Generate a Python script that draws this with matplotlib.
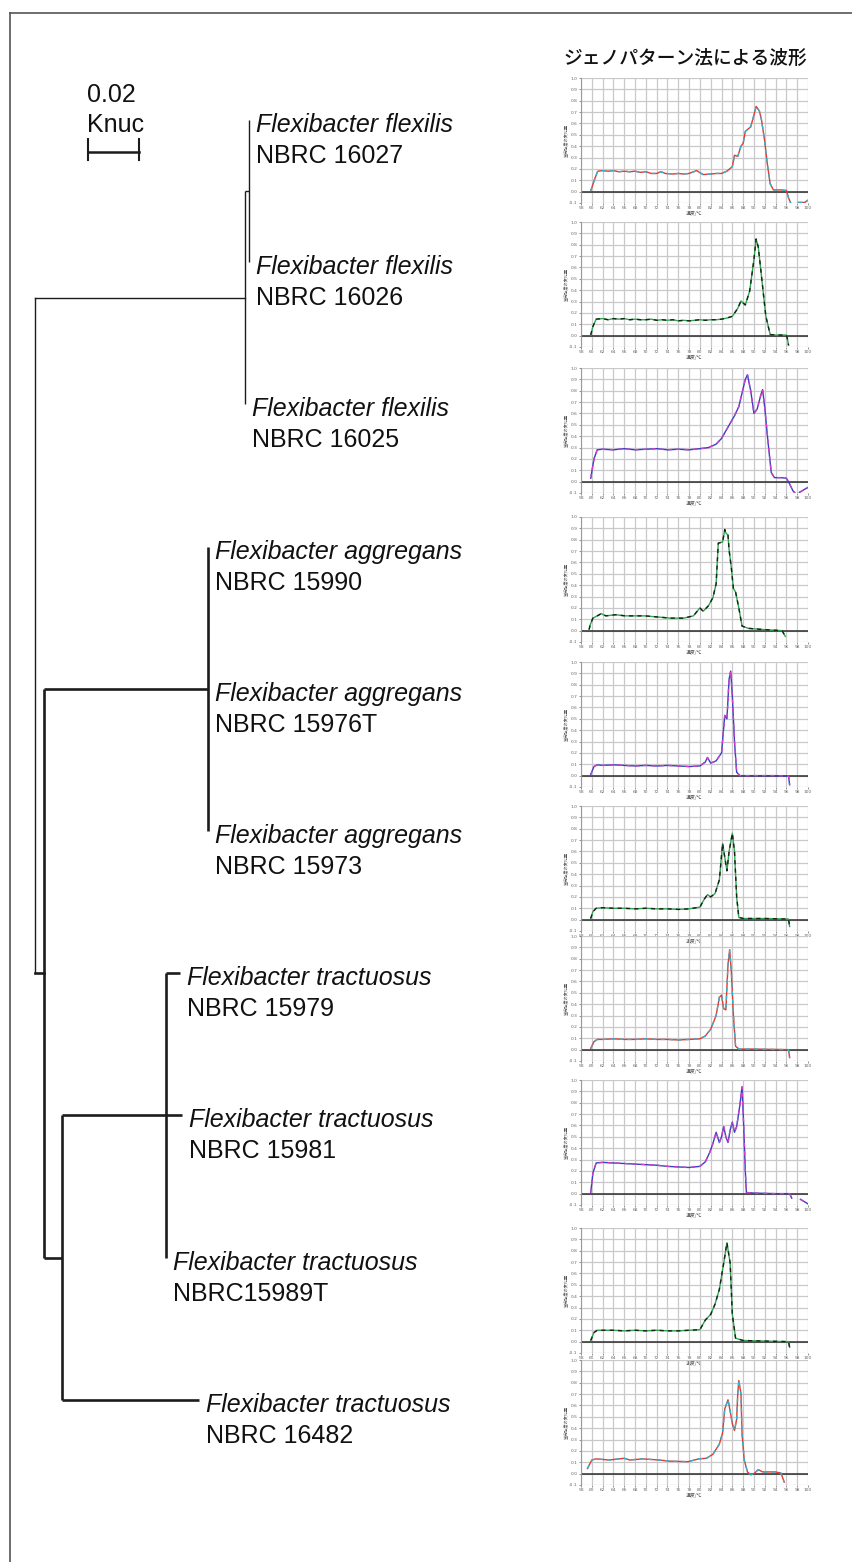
import re
import numpy as np
import matplotlib
matplotlib.use("Agg")
import matplotlib.pyplot as plt
from matplotlib.lines import Line2D

W, H = 853, 1562
LAT = "Liberation Sans"
CJK = ["Noto Sans CJK JP", "DejaVu Sans"]

# ---------------- tree data ----------------
# branch lengths in substitutions per site, tips t0..t9 top to bottom
newick = ("(((t0:0,t1:0):0.0016,t2:0):0.0824,"
          "((t3:0,t4:0,t5:0):0.0643,"
          "((t6:0.0055,t7:0.0063,t8:0):0.0408,t9:0.054):0.007):0.0035);")
species = ["Flexibacter flexilis"] * 3 + ["Flexibacter aggregans"] * 3 + ["Flexibacter tractuosus"] * 4
strains = ["NBRC 16027", "NBRC 16026", "NBRC 16025",
           "NBRC 15990", "NBRC 15976T", "NBRC 15973",
           "NBRC 15979", "NBRC 15981", "NBRC15989T", "NBRC 16482"]
scale_len = 0.02
scale_txt = ["0.02", "Knuc"]

title = "ジェノパターン法による波形"
xlab = "温度/℃"
ylab = "蛍光強度の変化量"

# ---------------- waveform data (temperature, signal) ----------------
w16027_t = [59.8, 60.6, 61.1, 62, 63, 64, 65, 66, 67, 68, 69, 70, 71, 72, 72.8, 73.6, 75, 76, 77, 78,
            79.4, 80.6, 82, 83, 84, 85, 86, 86.4, 87, 87.6, 88, 88.4, 89.4, 90, 90.4, 91, 91.4, 92, 92.4, 93,
            93.6, 95, 96, 96.4, 96.8, np.nan, 98.2, 99.4, 100]
w16027_y = [0.07, 1.2, 1.8, 1.85, 1.8, 1.85, 1.75, 1.8, 1.75, 1.8, 1.7, 1.75, 1.6, 1.6, 1.75, 1.6, 1.55, 1.6, 1.55, 1.6,
            1.85, 1.5, 1.55, 1.6, 1.6, 1.8, 2.2, 3.2, 3.1, 4.0, 4.25, 5.3, 5.7, 6.75, 7.5, 7.1, 6.3, 4.4, 2.7, 0.7,
            0.15, 0.15, 0.1, -0.55, -1.0, np.nan, -0.95, -0.95, -0.75]

w16026_t = [59.8, 60.2, 60.8, 62, 63, 64, 65, 66, 67, 68, 69, 70, 71, 72, 73, 74, 75, 76, 77, 78,
            79, 80, 81, 82, 83, 84, 85, 86, 87, 87.6, 88.4, 89.2, 90, 90.4, 90.8, 91.4, 92.2, 93, 94, 96,
            96.2, 96.4]
w16026_y = [0.05, 0.8, 1.45, 1.5, 1.4, 1.5, 1.45, 1.5, 1.4, 1.45, 1.4, 1.4, 1.45, 1.35, 1.4, 1.35, 1.4, 1.3, 1.35, 1.3,
            1.35, 1.4, 1.35, 1.4, 1.4, 1.45, 1.55, 1.7, 2.4, 3.05, 2.7, 3.9, 6.7, 8.5, 7.8, 5.2, 1.7, 0.1, 0.05, 0.05,
            -0.3, -0.85]

w16025_t = [59.8, 60.4, 61, 62, 64, 66, 68, 70, 72, 74, 76, 78, 80, 81.6, 83, 84, 85.2, 86.4, 87.2, 87.8,
            88.4, 88.8, 89.4, 90, 90.6, 91.2, 91.6, 92, 92.6, 93.2, 93.8, 95, 96, 96.6, 97.2, 97.6,
            np.nan, 98.4, 100]
w16025_y = [0.3, 2.0, 2.8, 2.85, 2.8, 2.9, 2.8, 2.85, 2.9, 2.8, 2.85, 2.8, 2.9, 3.0, 3.3, 3.8, 4.8, 5.8, 6.6, 7.8,
            9.0, 9.4, 8.0, 6.0, 6.4, 7.5, 8.1, 6.5, 3.5, 0.8, 0.35, 0.35, 0.3, -0.2, -0.8, -1.0,
            np.nan, -0.95, -0.5]

w15990_t = [59.5, 59.7, 60.2, 61.4, 61.7, 62.6, 64.4, 66.2, 68, 69.8, 72.2, 74.6, 77, 78.8, 80, 80.6, 81.6, 82.4,
            83, 83.4, 84.2, 84.6, 84.8, 85.2, 85.4, 85.8, 86.2, 86.6, 87.2, 87.8, 89, 91.6, 95.2, 95.8]
w15990_y = [0.1, 0.5, 1.1, 1.4, 1.5, 1.3, 1.4, 1.3, 1.3, 1.3, 1.2, 1.1, 1.1, 1.3, 2.0, 1.7, 2.2, 2.9,
            4.1, 7.7, 7.8, 8.9, 8.6, 8.4, 7.1, 5.6, 3.7, 3.4, 2.0, 0.4, 0.2, 0.1, 0.0, -0.5]

w15976_t = [59.8, 60.4, 61, 62, 64, 66, 68, 70, 72, 74, 76, 78, 80, 81, 81.4, 82, 83, 84, 84.6, 85,
            85.4, 85.7, 86, 86.4, 86.8, 87.4, 90, 94, 96.4, 96.6]
w15976_y = [0.1, 0.8, 0.95, 0.9, 0.95, 0.9, 0.85, 0.9, 0.85, 0.9, 0.85, 0.8, 0.85, 1.2, 1.6, 1.1, 1.3, 2.0, 5.3, 5.0,
            8.5, 9.2, 7.0, 3.0, 0.3, 0.0, 0.0, 0.0, -0.05, -0.8]

w15973_t = [59.8, 60.2, 60.8, 62, 64, 66, 68, 70, 72, 74, 76, 78, 80, 80.8, 81.4, 82, 82.8, 83.6, 84.2, 84.6,
            85, 85.4, 86, 86.4, 86.8, 87.2, 88, 92, 96.4, 96.6]
w15973_y = [0.1, 0.7, 1.0, 1.05, 1.0, 1.0, 0.95, 1.0, 0.95, 0.95, 0.9, 0.95, 1.1, 1.8, 2.2, 2.0, 2.3, 3.5, 6.7, 5.5,
            4.3, 6.0, 7.6, 6.0, 2.0, 0.2, 0.1, 0.1, 0.05, -0.6]

w15979_t = [59.8, 60.4, 61, 62, 64, 66, 68, 70, 72, 74, 76, 78, 80, 81, 82, 83, 83.6, 84, 84.4, 84.8,
            85.2, 85.5, 85.8, 86.2, 86.6, 87.2, 90, 96.4, 96.6]
w15979_y = [0.1, 0.7, 0.9, 0.9, 0.95, 0.9, 0.9, 0.95, 0.9, 0.9, 0.85, 0.9, 0.95, 1.2, 1.8, 3.0, 4.6, 4.8, 3.6, 3.5,
            7.5, 8.8, 7.0, 3.0, 0.3, 0.05, 0.05, 0.0, -0.7]

w15981_t = [59.8, 60.2, 60.8, 62, 64, 66, 68, 70, 72, 74, 76, 78, 80, 81, 81.8, 82.4, 83, 83.6, 84, 84.4,
            84.8, 85.2, 85.6, 86, 86.4, 86.8, 87.4, 87.8, 88.1, 88.4, 88.6, 90, 94, 96.6, 97,
            np.nan, 98.6, 100]
w15981_y = [0.1, 1.8, 2.7, 2.75, 2.7, 2.65, 2.6, 2.55, 2.5, 2.4, 2.35, 2.3, 2.4, 2.8, 3.6, 4.4, 5.4, 4.5, 5.0, 5.9,
            5.0, 4.5, 5.6, 6.3, 5.4, 5.9, 7.8, 9.4, 6.0, 2.0, 0.1, 0.05, 0.0, 0.0, -0.4,
            np.nan, -0.5, -0.9]

w15989_t = [59.8, 60.4, 61, 62, 64, 66, 68, 70, 72, 74, 76, 78, 80, 81, 82, 82.8, 83.6, 84.4, 85, 85.6,
            86, 86.6, 88, 92, 96.4, 96.6]
w15989_y = [0.1, 0.8, 1.0, 1.0, 1.0, 0.95, 1.0, 0.95, 1.0, 0.95, 0.95, 1.0, 1.05, 1.9, 2.4, 3.3, 4.6, 6.9, 8.7, 6.9,
            2.4, 0.3, 0.1, 0.05, 0.0, -0.5]

w16482_t = [59.2, 60, 60.8, 63.2, 66, 67, 69.4, 72.4, 74.4, 77.8, 79.8, 81.2, 82.4, 83.6, 84.2, 84.6, 85.2, 85.6,
            86, 86.4, 86.8, 87, 87.2, 87.6, 87.8, 88.2, 88.8, 89.4, 90, 90.8, 91.6, 94, 95, 95.6]
w16482_y = [0.45, 1.2, 1.3, 1.2, 1.35, 1.2, 1.3, 1.2, 1.1, 1.05, 1.3, 1.35, 1.7, 2.6, 3.6, 5.7, 6.5, 5.5,
            4.4, 3.8, 4.8, 7.0, 8.2, 7.0, 3.5, 1.2, 0.15, -0.1, 0.0, 0.35, 0.15, 0.15, 0.05, -0.75]

waves = [(w16027_t, w16027_y), (w16026_t, w16026_y), (w16025_t, w16025_y),
         (w15990_t, w15990_y), (w15976_t, w15976_y), (w15973_t, w15973_y),
         (w15979_t, w15979_y), (w15981_t, w15981_y), (w15989_t, w15989_y),
         (w16482_t, w16482_y)]
temp_ticks = list(range(58, 101, 2))
level_ticks = list(range(-1, 11))

RED, CYAN = "#e5392b", "#2cb6d6"
GREEN, BLACK = "#2aa84a", "#1e1e1e"
BLUE, MAGENTA = "#3340c8", "#d23fbf"
pair = [(RED, CYAN), (GREEN, BLACK), (BLUE, MAGENTA), (GREEN, BLACK), (BLUE, MAGENTA),
        (GREEN, BLACK), (RED, CYAN), (BLUE, MAGENTA), (GREEN, BLACK), (RED, CYAN)]


def parse(s):
    pos = 0

    def node():
        nonlocal pos
        kids = []
        if s[pos] == "(":
            pos += 1
            while True:
                kids.append(node())
                ch = s[pos]
                pos += 1
                if ch == ")":
                    break
        m = re.match(r"([^:,();]*)(?::([0-9.eE-]+))?", s[pos:])
        pos += m.end()
        return {"name": m.group(1), "len": float(m.group(2) or 0), "kids": kids}

    return node()


def place(n, x0):
    n["x"] = x0 + n["len"]
    if n["kids"]:
        for k in n["kids"]:
            place(k, n["x"])
        n["y"] = (n["kids"][0]["y"] + n["kids"][-1]["y"]) / 2
    else:
        n["y"] = int(n["name"][1:])


fig = plt.figure(figsize=(W / 100, H / 100), dpi=100)

# tree axes over the whole figure: 2550 px per unit, root at x=35px, tips 142.2px apart from y=120px
ppu, x0px, tip0, step = 2550.0, 35.0, 120.0, 142.2
ax = fig.add_axes([0, 0, 1, 1])
ax.set_xlim(-x0px / ppu, (W - x0px) / ppu)
ax.set_ylim((H - tip0) / step, -tip0 / step)
ax.axis("off")

tree = parse(newick)
place(tree, 0.0)
TC = "#1c1c1c"


def draw(n, lw):
    if not n["kids"]:
        return
    ax.plot([n["x"]] * 2, [n["kids"][0]["y"], n["kids"][-1]["y"]], color=TC, lw=lw, solid_capstyle="butt")
    for k in n["kids"]:
        ax.plot([n["x"], k["x"]], [k["y"]] * 2, color=TC, lw=lw, solid_capstyle="butt")
        draw(k, lw)


ax.plot([tree["x"]] * 2, [tree["kids"][0]["y"], tree["kids"][-1]["y"]], color=TC, lw=1.0)
for kid, lw in zip(tree["kids"], [1.0, 1.9]):
    ax.plot([tree["x"], kid["x"]], [kid["y"]] * 2, color=TC, lw=lw)
    draw(kid, lw)


def tips(n):
    return [n] if not n["kids"] else [t for k in n["kids"] for t in tips(k)]


for t in tips(tree):
    i = t["y"]
    ax.annotate(species[i], (t["x"], t["y"]), xytext=(7, -5), textcoords="offset pixels",
                fontsize=18, style="italic", family=LAT, va="center", ha="left", color="#111")
    ax.annotate(strains[i], (t["x"], t["y"]), xytext=(7, -36), textcoords="offset pixels",
                fontsize=18, family=LAT, va="center", ha="left", color="#111")

# scale bar
sx, sy = (88 - x0px) / ppu, (152 - tip0) / step
ax.plot([sx, sx + scale_len], [sy, sy], color=TC, lw=1.8)
for xx in (sx, sx + scale_len):
    ax.plot([xx, xx], [sy - 13 / step, sy + 8 / step], color=TC, lw=1.5)
ax.annotate(scale_txt[0], (sx, sy), xytext=(-1, 57), textcoords="offset pixels",
            fontsize=18, family=LAT, va="center", ha="left", color="#111")
ax.annotate(scale_txt[1], (sx, sy), xytext=(-1, 27), textcoords="offset pixels",
            fontsize=18, family=LAT, va="center", ha="left", color="#111")

# frame lines
fig.add_artist(Line2D([10 / W, 1], [1 - 13 / H] * 2, color="#555", lw=1.2, transform=fig.transFigure))
fig.add_artist(Line2D([10 / W] * 2, [1 - 13 / H, 0], color="#555", lw=1.2, transform=fig.transFigure))

fig.text(685 / W, 1 - 58 / H, title, fontsize=13.5, family=CJK, weight="medium",
         ha="center", va="center", color="#111")

# waveform panels
panel_tops = [78, 222, 368, 517, 662, 806, 936, 1080, 1228, 1360]
for k, top in enumerate(panel_tops):
    pa = fig.add_axes([581 / W, 1 - (top + 125) / H, 227 / W, 125 / H])
    pa.set_xlim(58, 100)
    pa.set_ylim(-1, 10)
    pa.set_xticks(temp_ticks)
    pa.set_yticks(level_ticks)
    pa.set_xticklabels([str(v) for v in temp_ticks])
    pa.set_yticklabels([f"{v / 10:.1f}" for v in level_ticks])
    pa.set_axisbelow(True)
    pa.grid(True, color="#c9c9cc", lw=0.9)
    for s in pa.spines.values():
        s.set_visible(False)
    pa.spines["left"].set_visible(True)
    pa.spines["left"].set_color("#9a9a9a")
    pa.spines["left"].set_linewidth(0.8)
    pa.tick_params(labelsize=3.2, colors="#666", length=1.5, width=0.5, pad=1)
    pa.axhline(0, color="#2a2a2a", lw=1.1, zorder=1.5)
    t, y = waves[k]
    c1, c2 = pair[k]
    pa.plot(t, y, color=c1, lw=1.0, zorder=3)
    pa.plot(t, y, color=c2, lw=1.0, dashes=(3, 3), zorder=4)
    pa.set_xlabel(xlab, fontsize=3.5, labelpad=0.5, family=CJK, color="#555")
    pa.set_ylabel(ylab, fontsize=3, labelpad=1, family=CJK, color="#555")
    pa.set_facecolor("none")

fig.savefig("out.png", dpi=100)
